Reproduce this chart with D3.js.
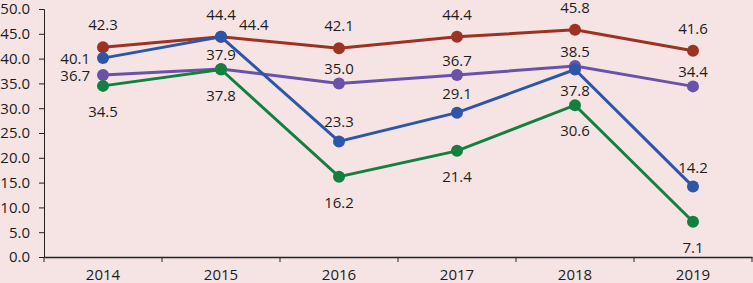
<!DOCTYPE html>
<html>
<head>
<meta charset="utf-8">
<script src="https://cdn.jsdelivr.net/npm/d3@7"></script>
<style>
  body { margin: 0; background: #f6e4e5; }
  svg { display: block; }
  text { font-family: "Open Sans", "Liberation Sans", sans-serif; fill: #1c1c1c; }
</style>
</head>
<body>
<svg id="chart" width="753" height="283"></svg>
<script>
// datos
const anios = ["2014", "2015", "2016", "2017", "2018", "2019"];
const serieRoja = [42.3, 44.4, 42.1, 44.4, 45.8, 41.6];
const serieAzul = [40.1, 44.4, 23.3, 29.1, 37.8, 14.2];
const serieMorada = [36.7, 37.9, 35.0, 36.7, 38.5, 34.4];
const serieVerde = [34.5, 37.8, 16.2, 21.4, 30.6, 7.1];
const ticksY = [0, 5, 10, 15, 20, 25, 30, 35, 40, 45, 50];

// donde va cada etiqueta: t arriba, b abajo, l izquierda, tr arriba-derecha
const posRoja = ["t", "t", "t", "t", "t", "t"];
const posAzul = ["l", "tr", "t", "t", "b", "t"];
const posMorada = ["l", "t", "t", "t", "t", "t"];
const posVerde = ["b", "b", "b", "b", "b", "b"];

const series = [
  { valores: serieRoja, pos: posRoja, color: "#9c3322", gap: 23 },
  { valores: serieMorada, pos: posMorada, color: "#6a52a8", gap: 15 },
  { valores: serieAzul, pos: posAzul, color: "#2d55a8", gap: 20 },
  { valores: serieVerde, pos: posVerde, color: "#13803f", gap: 25 }
];

const svg = d3.select("#chart");
const margin = { top: 9, right: 1, bottom: 26, left: 44 };
const width = +svg.attr("width");
const height = +svg.attr("height");
const fuente = "15px";

const x = d3.scaleBand()
  .domain(anios)
  .range([margin.left, width - margin.right]);

const y = d3.scaleLinear()
  .domain([0, 50])
  .range([height - margin.bottom, margin.top]);

// eje Y
const ejeY = svg.append("g")
  .attr("transform", `translate(${margin.left},0)`)
  .call(d3.axisLeft(y).tickValues(ticksY).tickFormat(d3.format(".1f")).tickSize(5).tickPadding(9));
ejeY.select(".domain").attr("stroke", "#222");
ejeY.selectAll(".tick line").attr("stroke", "#222");
ejeY.selectAll("text").style("font-size", fuente).attr("fill", "#1c1c1c");

// eje X con marcas entre categorías
const ejeX = svg.append("g")
  .attr("transform", `translate(0,${y(0)})`)
  .call(d3.axisBottom(x).tickSize(0).tickPadding(12));
ejeX.select(".domain").attr("stroke", "#222").attr("stroke-width", 1.3);
ejeX.selectAll("text").style("font-size", fuente).attr("fill", "#1c1c1c");
const bordes = anios.map(a => x(a)).concat([x.range()[1]]);
ejeX.selectAll(".sep")
  .data(bordes)
  .enter()
  .append("line")
  .attr("class", "sep")
  .attr("x1", d => d).attr("x2", d => d)
  .attr("y1", 0).attr("y2", 5)
  .attr("stroke", "#222");

const cx = i => x(anios[i]) + x.bandwidth() / 2;

const line = d3.line()
  .x((d, i) => cx(i))
  .y(d => y(d));

// líneas y puntos
series.forEach(s => {
  svg.append("path")
    .datum(s.valores)
    .attr("fill", "none")
    .attr("stroke", s.color)
    .attr("stroke-width", 3)
    .attr("d", line);
});

series.forEach(s => {
  svg.selectAll(null)
    .data(s.valores)
    .enter()
    .append("circle")
    .attr("cx", (d, i) => cx(i))
    .attr("cy", d => y(d))
    .attr("r", 6)
    .attr("fill", s.color);
});

// etiquetas
series.forEach(s => {
  svg.selectAll(null)
    .data(s.valores)
    .enter()
    .append("text")
    .text(d => d3.format(".1f")(d))
    .style("font-size", fuente)
    .attr("fill", "#1c1c1c")
    .attr("dominant-baseline", "central")
    .attr("text-anchor", (d, i) => s.pos[i] === "l" ? "end" : (s.pos[i] === "tr" ? "start" : "middle"))
    .attr("x", (d, i) => {
      const p = s.pos[i];
      if (p === "l") return cx(i) - 13;
      if (p === "tr") return cx(i) + 18;
      return cx(i);
    })
    .attr("y", (d, i) => {
      const p = s.pos[i];
      if (p === "t") return y(d) - s.gap;
      if (p === "b") return y(d) + s.gap;
      if (p === "tr") return y(d) - 13;
      return y(d);
    });
});
</script>
</body>
</html>
